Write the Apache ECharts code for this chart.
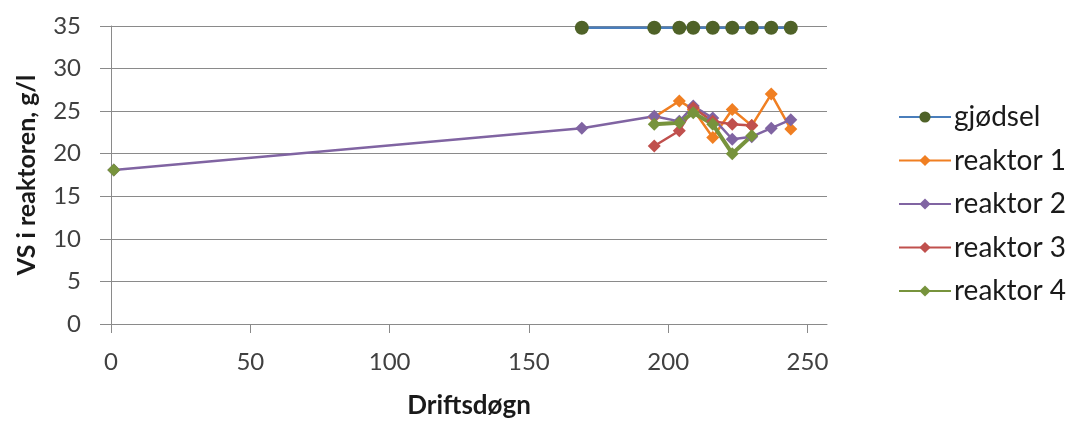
<!DOCTYPE html>
<html>
<head>
<meta charset="utf-8">
<title>VS i reaktoren</title>
<script src="https://cdn.jsdelivr.net/npm/echarts@6/dist/echarts.min.js"></script>
<style>
  html, body { margin: 0; padding: 0; background: #ffffff; }
  #chart { width: 1077px; height: 424px; }
</style>
</head>
<body>
<div id="chart"></div>
<script>
// Operating day of each sample
const days = [1, 169, 195, 204, 209, 216, 223, 230, 237, 244];

// Volatile solids (g/l) per sample; null = no sample that day
const gjodsel  = [null, 34.8, 34.8, 34.8, 34.8, 34.8, 34.8, 34.8, 34.8, 34.8];
const reaktor1 = [null, null, 24.3, 26.2, 25.2, 21.9, 25.2, 23.3, 27.0, 22.9];
const reaktor2 = [18.1, 23.0, 24.4, 23.8, 25.6, 24.2, 21.7, 22.0, 23.0, 24.0];
const reaktor3 = [null, null, 20.9, 22.7, 25.4, 23.8, 23.45, 23.3, null, null];
const reaktor4 = [18.1, null, 23.45, 23.65, 24.8, 23.45, 20.0, 22.1, null, null];

const xTicks = [0, 50, 100, 150, 200, 250];
const yTicks = [0, 5, 10, 15, 20, 25, 30, 35];

const FONT = 'Lato, "Open Sans", sans-serif';
const GRID_COLOR = '#8a8a8a';

function pairs(values) {
  return days.map((d, i) => [d, values[i]]);
}

function lineSeries(name, values, color, opts) {
  return Object.assign({
    name: name,
    type: 'line',
    data: pairs(values),
    connectNulls: false,
    symbol: 'diamond',
    symbolSize: 13,
    lineStyle: { color: color, width: 2.5 },
    itemStyle: { color: color },
    emphasis: { disabled: true },
    animation: false
  }, opts || {});
}

const chart = echarts.init(document.getElementById('chart'), null, { renderer: 'canvas' });

chart.setOption({
  backgroundColor: '#ffffff',
  animation: false,
  grid: { left: 111, right: 250, top: 26, bottom: 98, containLabel: false },
  legend: {
    orient: 'vertical',
    left: 898,
    top: 103,
    padding: 0,
    itemWidth: 52,
    itemHeight: 14,
    itemGap: 15.5,
    textStyle: { fontFamily: FONT, fontSize: 28, color: '#1a1a1a', padding: [0, 0, 0, -2] },
    data: ['gjødsel', 'reaktor 1', 'reaktor 2', 'reaktor 3', 'reaktor 4']
  },
  xAxis: {
    type: 'value',
    min: 0,
    max: 257,
    interval: 50,
    name: 'Driftsdøgn',
    nameLocation: 'middle',
    nameGap: 69,
    nameTextStyle: { fontFamily: FONT, fontSize: 26, fontWeight: 'bold', color: '#1a1a1a' },
    axisLine: { show: true, lineStyle: { color: GRID_COLOR, width: 1 } },
    axisTick: { show: true, length: 9, inside: false, customValues: xTicks, lineStyle: { color: GRID_COLOR } },
    axisLabel: { customValues: xTicks, margin: 26, fontFamily: FONT, fontSize: 24, color: '#404040' },
    splitLine: { show: false }
  },
  yAxis: {
    type: 'value',
    min: 0,
    max: 35,
    interval: 5,
    name: 'VS i reaktoren, g/l',
    nameLocation: 'middle',
    nameGap: 72,
    nameRotate: 90,
    nameTextStyle: { fontFamily: FONT, fontSize: 25, fontWeight: 'bold', color: '#1a1a1a' },
    axisLine: { show: true, lineStyle: { color: GRID_COLOR, width: 1 } },
    axisTick: { show: true, length: 11, inside: false, customValues: yTicks, lineStyle: { color: GRID_COLOR } },
    axisLabel: { customValues: yTicks, margin: 30, fontFamily: FONT, fontSize: 24, color: '#404040' },
    splitLine: { show: true, lineStyle: { color: GRID_COLOR, width: 1 } }
  },
  series: [
    lineSeries('gjødsel', gjodsel, '#4f6228', {
      symbol: 'circle',
      symbolSize: 14,
      lineStyle: { color: '#4a7ebb', width: 2.5 },
      itemStyle: { color: '#4f6228' }
    }),
    lineSeries('reaktor 1', reaktor1, '#f07f22'),
    lineSeries('reaktor 2', reaktor2, '#8064a2'),
    lineSeries('reaktor 3', reaktor3, '#c0504d'),
    lineSeries('reaktor 4', reaktor4, '#77933c', { lineStyle: { color: '#77933c', width: 4 } })
  ]
});
</script>
</body>
</html>
